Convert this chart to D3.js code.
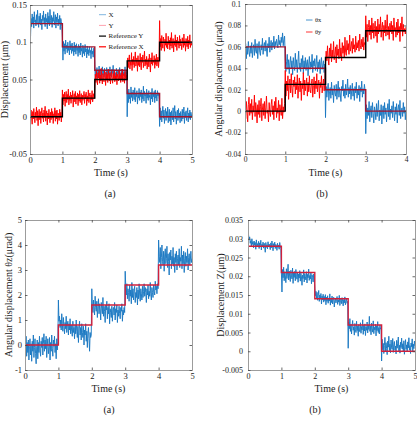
<!DOCTYPE html>
<html>
<head>
<meta charset="utf-8">
<script src="https://cdn.jsdelivr.net/npm/d3@7"></script>
<style>
  body { margin: 0; background: #fff; }
</style>
</head>
<body>
<div id="chart"></div>
<script>
// step test: 4 panels, noisy measurements + step references

// ---------- data ----------
// each measured series is split in 1 s segments, values in the panel's unit

// panel 1 (a) : displacement X / Y, unit 0.001 um
const dispXRef = [0.125, 0.09375, 0.0625, 0.03125, 0];
const dispYRef = [0, 0.025, 0.05, 0.075, 0.1];
const dispX = [
  [140,108,132,121,138,125,134,119,141,127,130,122,137,124,143,128,120,135,126,139,123,131,117,136,129,142,125,133,121,138,127,132,118,140,126,135,122,144,129,124,136,120,133,128,141,123,130,137,119,134,127,139,122,131,125,136,117,132,128,121],
  [106,76,101,88,98,84,103,91,96,86,100,89,95,83,102,90,97,85,99,88,94,82,100,87,96,84,98,89,93,81,97,86,95,83,99,88,92,80,96,85,93,82,97,87,91,79,95,84,90,82,94,86,89,78,93,84,88,80,92,85],
  [70,50,63,54,66,52,61,57,68,51,64,55,60,49,67,56,62,53,65,58,59,50,66,54,63,57,61,48,67,55,60,53,64,58,69,52,62,56,59,50,65,54,61,57,63,51,66,55,58,53,64,49,62,56,60,54,67,52,61,57],
  [0,34,19,37,24,31,18,40,26,33,21,36,28,23,39,20,32,27,35,17,30,25,38,22,33,27,36,19,31,24,41,21,34,28,30,18,37,25,32,22,35,26,29,16,33,24,38,20,31,27,34,19,36,25,30,21,35,28,32,23],
  [-13,12,-4,8,-7,5,14,-2,9,-9,4,11,-5,7,-1,13,-8,3,10,-6,6,-11,8,0,-4,12,-7,4,15,-3,7,-10,2,9,-5,11,-2,5,-8,7,1,-6,10,-3,4,13,-9,6,-1,8,-5,3,12,-7,5,-2,9,-4,6,1,3]
];
const dispY = [
  [5,-6,9,0,-10,7,-3,11,2,-8,6,-1,13,-5,8,-12,3,10,-4,7,-9,4,12,-2,5,-7,9,-1,14,-6,3,8,-11,5,-3,10,1,-8,6,-4,11,-2,7,-9,4,0,12,-6,8,-3,9,-10,5,2,-5,10,-1,6,-7,3],
  [36,16,30,21,33,14,27,34,19,30,23,37,16,28,22,33,18,29,24,35,13,27,31,20,34,17,28,23,32,15,30,21,35,19,27,31,16,29,22,26,34,18,30,24,33,15,28,21,36,19,27,32,17,29,23,35,20,26,31,24],
  [38,57,46,61,49,43,59,52,63,45,56,48,65,50,44,58,53,47,62,55,42,60,49,57,46,64,52,48,59,44,56,61,50,45,58,51,63,47,55,49,60,43,57,53,48,62,51,56,46,59,50,64,47,54,58,45,61,52,49,56],
  [52,79,66,76,83,64,74,69,86,62,77,70,81,66,75,87,68,72,79,61,82,69,76,67,85,71,63,80,73,83,66,74,88,68,77,70,81,64,75,78,67,84,72,60,79,71,86,69,76,73,82,65,78,70,84,68,75,80,66,77],
  [129,94,105,89,109,98,92,107,101,88,104,96,112,93,100,91,108,97,103,90,106,95,113,92,99,105,87,102,96,110,94,103,89,107,97,101,92,109,95,104,98,90,106,100,93,111,96,102,88,105,99,94,108,91,103,97,110,93,101,96,100]
];

// panel 2 (b) : angular displacement thx / thy, unit 0.001 urad
const angXRef = [0.06, 0.04, 0.02, 0];
const angYRef = [0, 0.025, 0.05, 0.075];
const angX = [
  [57,63,49,60,53,65,56,51,61,54,64,50,59,62,52,67,56,54,63,49,60,65,55,52,62,57,68,53,61,64,56,66,58,51,63,59,69,55,62,66,57,64,60,70,58,65,61,67,63,59,71,62,66,60,69,64,73,61,67,70],
  [49,37,46,53,39,48,35,45,51,40,47,34,50,42,38,54,41,48,36,46,56,39,45,37,49,41,52,35,47,40,50,38,45,48,33,44,51,39,46,41,53,36,47,42,49,38,44,52,37,46,40,48,35,45,50,39,43,47,36,44],
  [-6,23,13,20,26,10,18,22,12,27,15,21,8,24,17,14,25,11,20,28,13,22,16,9,23,19,29,14,21,12,25,15,20,30,13,22,16,24,11,19,26,14,21,10,23,17,27,12,20,15,24,9,22,18,28,13,21,16,25,19],
  [-21,6,-7,3,-4,9,-10,1,5,-6,8,-2,-11,4,0,-8,7,-5,2,10,-9,1,-4,6,-12,0,5,-7,8,-3,3,-10,1,7,-5,11,-8,2,-2,5,-6,9,-1,-9,4,-3,7,-11,2,6,-4,10,-7,0,3,-5,8,-2,4,-8,1]
];
const angY = [
  [4,-7,9,0,-10,6,13,-4,7,-2,11,-8,5,-1,15,-5,8,1,-11,6,-3,10,-6,4,12,-9,2,7,-4,9,-7,3,14,-2,1,-10,8,-1,-5,6,11,-3,5,-8,9,0,13,-6,3,-2,10,-9,6,1,-4,12,-7,4,-1,7],
  [38,14,28,19,33,11,26,30,17,35,21,13,29,23,32,16,27,20,34,12,24,31,18,28,10,26,21,36,15,29,19,25,31,14,27,18,33,20,17,26,30,13,24,32,16,28,21,35,18,25,29,12,27,22,33,17,24,30,19,26],
  [44,56,47,61,49,43,59,51,63,46,57,50,65,48,53,60,45,62,52,58,49,67,51,59,47,64,54,61,50,69,55,52,66,57,63,53,71,56,60,65,54,68,58,62,55,70,57,64,59,66,56,72,61,58,67,60,69,57,64,62],
  [89,69,81,65,78,85,71,80,67,87,73,82,68,77,84,70,79,64,86,72,81,74,88,69,78,83,66,80,73,85,70,77,90,71,79,67,82,74,84,72,80,66,87,75,78,69,83,71,86,73,79,65,82,76,88,70,81,74,77,72,79]
];

// panel 3 (a) : angular displacement thz, unit 0.01 urad
const thetaZRef = [0, 0.8, 1.6, 2.4, 3.2];
const thetaZ = [
  [30,-20,35,-45,10,-30,20,-60,-5,25,-40,5,-65,15,-25,40,-50,-10,25,-35,-75,-5,20,-55,10,-30,35,-20,-45,15,-10,30,-40,5,45,-25,20,-15,35,-50,0,25,-35,-10,30,-60,10,-25,40,-15,-45,20,-5,35,-30,5,-55,25,-20,15],
  [180,95,115,70,100,60,125,85,55,110,75,45,90,65,115,50,80,95,40,85,60,105,45,80,55,35,95,50,70,25,80,45,100,55,30,75,10,65,95,40,70,20,85,50,30,75,0,60,40,85,15,55,-10,45,70,25,-25,50,30,40],
  [225,155,130,180,140,120,195,150,135,175,110,155,185,125,165,140,100,170,145,125,190,115,155,135,90,160,140,175,105,150,125,165,85,145,130,110,155,95,140,150,120,170,100,145,130,160,90,140,115,155,125,105,150,135,165,95,140,120,150,130],
  [295,235,200,245,185,225,210,175,240,195,220,165,250,190,225,180,215,235,170,210,190,230,160,220,185,245,200,175,225,205,180,235,190,215,245,195,230,210,170,225,200,240,185,215,195,250,205,180,230,210,190,240,215,200,255,220,235,205,245,225],
  [420,355,330,390,305,350,400,335,320,375,295,360,385,325,345,395,310,365,335,280,370,340,380,305,355,325,390,315,350,290,365,330,375,300,345,360,320,385,310,350,335,395,305,360,325,375,290,345,370,315,355,330,385,300,350,365,320,340,375,330,345]
];

// panel 4 (b) : displacement Z, unit 0.0001 um
const dispZRef = [0.028, 0.021, 0.014, 0.007, 0];
const dispZ = [
  [340,310,298,305,288,295,280,300,285,292,276,294,283,290,272,297,281,287,278,293,274,289,282,296,270,285,279,291,275,288,281,264,290,277,284,273,292,278,286,280,271,289,276,294,282,268,287,279,291,274,285,281,269,288,277,283,272,290,279,275],
  [210,158,218,196,224,188,212,201,183,220,194,209,232,190,214,198,186,216,203,193,222,181,210,197,213,188,218,200,192,211,184,206,195,215,187,208,198,176,203,194,217,185,207,199,190,212,182,205,196,219,189,202,193,209,180,204,197,185,206,192],
  [168,148,160,140,157,136,149,162,133,150,139,154,126,147,137,152,131,146,135,151,124,144,133,148,128,142,134,153,123,140,130,147,126,139,144,118,136,141,129,138,146,125,137,131,149,122,135,140,127,143,132,121,138,129,145,124,134,139,128,133],
  [8,78,60,87,53,72,46,68,82,56,65,43,74,58,50,80,55,67,40,71,59,52,76,48,66,57,84,45,69,54,73,42,65,56,78,49,70,58,93,53,67,44,75,60,51,81,47,64,57,72,41,68,55,79,50,63,46,70,59,62],
  [-26,32,4,21,-6,16,37,-1,23,7,-9,27,11,40,2,19,-4,30,9,5,34,-3,18,26,3,14,-7,29,8,21,38,1,16,-5,24,10,35,6,20,0,28,-8,13,31,5,17,-2,25,9,36,3,15,-6,22,12,33,-1,19,7,27,14]
];

// tick values
const ticks5 = [0, 1, 2, 3, 4, 5];
const ticks4 = [0, 1, 2, 3, 4];
const p1YTicks = [-0.05, 0, 0.05, 0.1, 0.15];
const p2YTicks = [-0.04, -0.02, 0, 0.02, 0.04, 0.06, 0.08, 0.1];
const p3YTicks = [-1, 0, 1, 2, 3, 4, 5];
const p4YTicks = [-0.005, 0, 0.005, 0.01, 0.015, 0.02, 0.025, 0.03, 0.035];

// ---------- colours ----------
const blue = "#1a78c2";
const red = "#ff0000";
const darkRed = "#a2142f";
const crimson = "#d0203c";
const serif = "Liberation Serif, Times New Roman, serif";

const svg = d3.select("#chart").append("svg")
  .attr("width", 417)
  .attr("height", 421)
  .attr("font-family", serif);

// segment k of n points covers [k, k+1); the last one also ends on its right edge
function toPoints(segs, unit) {
  return segs.flatMap((seg, k) => {
    const n = k === segs.length - 1 ? seg.length - 1 : seg.length;
    return seg.map((v, j) => [k + j / n, v * unit]);
  });
}

// step reference: one level per second
function stepPoints(levels) {
  const pts = levels.map((v, k) => [k, v]);
  pts.push([levels.length, levels[levels.length - 1]]);
  return pts;
}

const fmt = v => String(+v.toFixed(4));

function drawPanel(p) {
  const x = d3.scaleLinear().domain(p.xDomain).range([p.left, p.right]);
  const y = d3.scaleLinear().domain(p.yDomain).range([p.bottom, p.top]);
  const g = svg.append("g");

  const clipId = "clip" + p.id;
  svg.append("clipPath").attr("id", clipId)
    .append("rect")
    .attr("x", p.left).attr("y", p.top)
    .attr("width", p.right - p.left).attr("height", p.bottom - p.top);

  const line = d3.line().x(d => x(d[0])).y(d => y(d[1]));
  const stepLine = d3.line().curve(d3.curveStepAfter).x(d => x(d[0])).y(d => y(d[1]));

  const plot = g.append("g").attr("clip-path", `url(#${clipId})`);

  // measured signals
  p.series.forEach(s => {
    plot.append("path")
      .datum(toPoints(s.values, p.unit))
      .attr("fill", "none")
      .attr("stroke", s.color)
      .attr("stroke-width", 0.95)
      .attr("stroke-linejoin", "round")
      .attr("d", line);
  });

  // references
  p.refs.forEach(r => {
    plot.append("path")
      .datum(stepPoints(r.levels))
      .attr("fill", "none")
      .attr("stroke", r.color)
      .attr("stroke-width", 1.4)
      .attr("d", stepLine);
  });

  // axes, matlab style box with inner ticks
  const axes = [
    g.append("g").attr("transform", `translate(0,${p.bottom})`)
      .call(d3.axisBottom(x).tickValues(p.xTicks).tickFormat(fmt).tickSize(-2.5).tickPadding(3)),
    g.append("g").attr("transform", `translate(0,${p.top})`)
      .call(d3.axisTop(x).tickValues(p.xTicks).tickFormat("").tickSize(-2.5)),
    g.append("g").attr("transform", `translate(${p.left},0)`)
      .call(d3.axisLeft(y).tickValues(p.yTicks).tickFormat(fmt).tickSize(-2.5).tickPadding(p.yPad)),
    g.append("g").attr("transform", `translate(${p.right},0)`)
      .call(d3.axisRight(y).tickValues(p.yTicks).tickFormat("").tickSize(-2.5))
  ];
  axes.forEach(a => {
    a.attr("font-family", serif).attr("font-size", p.tickFont);
    a.select(".domain").attr("stroke", "#9c9c9c").attr("stroke-width", 1);
    a.selectAll(".tick line").attr("stroke", "#444").attr("stroke-width", 0.8);
    a.selectAll("text").attr("fill", "#1a1a1a");
  });

  // labels
  g.append("text")
    .attr("x", (p.left + p.right) / 2)
    .attr("y", p.bottom + 21.5)
    .attr("text-anchor", "middle")
    .attr("font-size", 10)
    .attr("fill", "#1a1a1a")
    .text("Time (s)");

  g.append("text")
    .attr("transform", `translate(${p.yLabelX},${(p.top + p.bottom) / 2}) rotate(-90)`)
    .attr("text-anchor", "middle")
    .attr("font-size", 10)
    .attr("fill", "#1a1a1a")
    .text(p.yLabel);

  g.append("text")
    .attr("x", p.captionX)
    .attr("y", p.bottom + 42.5)
    .attr("text-anchor", "middle")
    .attr("font-size", 10)
    .attr("fill", "#1a1a1a")
    .text(p.caption);

  // legend
  if (p.legend) {
    p.legend.items.forEach((it, i) => {
      const ly = p.legend.y + i * p.legend.step;
      g.append("line")
        .attr("x1", p.legend.x).attr("x2", p.legend.x + p.legend.len)
        .attr("y1", ly).attr("y2", ly)
        .attr("stroke", it.color)
        .attr("stroke-width", it.width);
      g.append("text")
        .attr("x", p.legend.x + p.legend.len + 2.5)
        .attr("y", ly)
        .attr("dy", "0.32em")
        .attr("font-size", p.legend.font)
        .attr("fill", "#1a1a1a")
        .text(it.label);
    });
  }
}

drawPanel({
  id: 1, left: 30, right: 192, top: 5, bottom: 154,
  xDomain: [0, 5], yDomain: [-0.05, 0.15], xTicks: ticks5, yTicks: p1YTicks,
  unit: 0.001, tickFont: 8.5, yPad: 3,
  series: [{values: dispX, color: blue}, {values: dispY, color: red}],
  refs: [{levels: dispXRef, color: darkRed}, {levels: dispYRef, color: "#000"}],
  yLabel: "Displacement (μm)", yLabelX: 7.5, caption: "(a)", captionX: 110,
  legend: {x: 99, y: 14.7, step: 10.7, len: 7, font: 7, items: [
    {label: "X", color: "#5fa3d8", width: 0.8},
    {label: "Y", color: "#ff8a9a", width: 0.8},
    {label: "Reference Y", color: "#000", width: 1.2},
    {label: "Reference X", color: red, width: 1.2}
  ]}
});

drawPanel({
  id: 2, left: 245, right: 406, top: 4, bottom: 154,
  xDomain: [0, 4], yDomain: [-0.04, 0.1], xTicks: ticks4, yTicks: p2YTicks,
  unit: 0.001, tickFont: 7.5, yPad: 4,
  series: [{values: angX, color: blue}, {values: angY, color: red}],
  refs: [{levels: angXRef, color: darkRed}, {levels: angYRef, color: "#000"}],
  yLabel: "Angular displacement (μrad)", yLabelX: 222, caption: "(b)", captionX: 322,
  legend: {x: 306, y: 20, step: 12, len: 6.5, font: 6.5, items: [
    {label: "θx", color: blue, width: 0.8},
    {label: "θy", color: red, width: 0.8}
  ]}
});

drawPanel({
  id: 3, left: 25, right: 192, top: 220, bottom: 370,
  xDomain: [0, 5], yDomain: [-1, 5], xTicks: ticks5, yTicks: p3YTicks,
  unit: 0.01, tickFont: 8.5, yPad: 3,
  series: [{values: thetaZ, color: blue}],
  refs: [{levels: thetaZRef, color: crimson}],
  yLabel: "Angular displacement θz(μrad)", yLabelX: 11.5, caption: "(a)", captionX: 109
});

drawPanel({
  id: 4, left: 248, right: 415, top: 220, bottom: 370,
  xDomain: [0, 5], yDomain: [-0.005, 0.035], xTicks: ticks5, yTicks: p4YTicks,
  unit: 0.0001, tickFont: 8, yPad: 5,
  series: [{values: dispZ, color: blue}],
  refs: [{levels: dispZRef, color: crimson}],
  yLabel: "Displacement Z(μm)", yLabelX: 224, caption: "(b)", captionX: 315
});
</script>
</body>
</html>
